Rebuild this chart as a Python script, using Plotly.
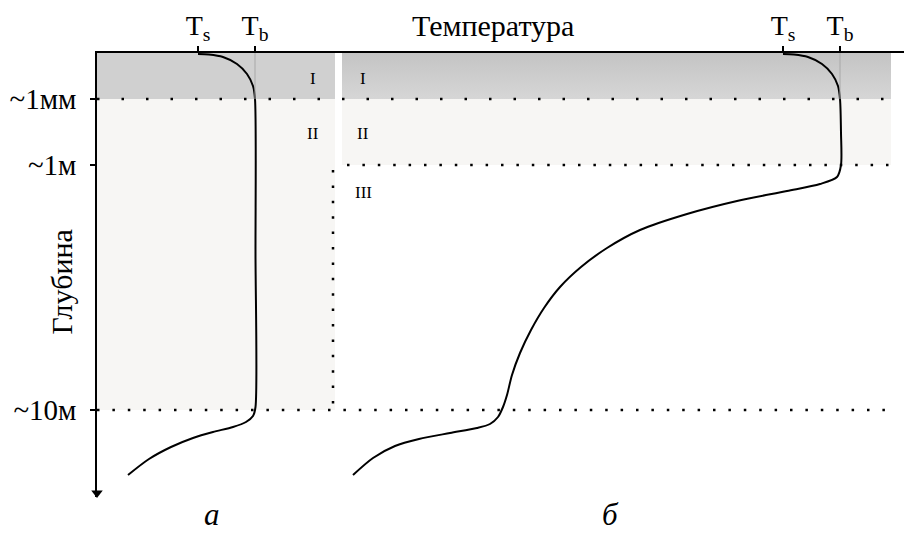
import plotly.graph_objects as go

# ---- schematic units: temperature (x) and depth (y, downward) ----
DEPTH_SURFACE = 0
DEPTH_1MM = 46
DEPTH_1M = 112
DEPTH_10M = 357
DEPTH_END = 444
X_END = 807

depth_ticks = [DEPTH_1MM, DEPTH_1M, DEPTH_10M]
depth_labels = ["~1мм", "~1м", "~10м"]

temp_ticks = [101, 158, 686, 743]
temp_labels = ["T<sub>s</sub>", "T<sub>b</sub>", "T<sub>s</sub>", "T<sub>b</sub>"]

panel_a_x = [0, 238]
panel_b_x = [245, 794]
divider_x = 236

# profile (а)
curve_a_T = [101, 112, 126, 140, 150, 156, 158, 158.5, 158.5, 156, 149, 136, 116, 96, 74, 52, 31]
curve_a_D = [1, 1.5, 4, 11, 21, 33, 46, 200, 354, 363, 369, 374, 379, 385, 394, 406, 422]

# profile (б)
curve_b_T = [686, 697, 711, 725, 735, 741, 743, 744, 744, 740, 723, 690, 640, 590, 543, 510,
             484, 463, 447, 434, 423, 415, 410, 406, 401, 393, 380, 353, 322, 298, 276, 256]
curve_b_D = [1, 1.5, 4, 11, 21, 33, 46, 80, 112, 124, 131, 138, 148, 161, 177, 195,
             214, 234, 255, 277, 300, 322, 342, 354, 364, 371, 375, 380, 386, 393, 405, 422]

roman = [("I", 216, 25), ("II", 216, 80), ("I", 266, 25), ("II", 266, 80), ("III", 266, 139)]

SERIF = "Liberation Serif"
GRAY = "#d0d0d0"
LIGHT = "#f7f6f4"

fig = go.Figure()

# gradient band I for panel б
fig.add_trace(go.Scatter(
    x=[panel_b_x[0], panel_b_x[1], panel_b_x[1], panel_b_x[0], panel_b_x[0]],
    y=[DEPTH_SURFACE, DEPTH_SURFACE, DEPTH_1MM, DEPTH_1MM, DEPTH_SURFACE],
    mode="lines", line=dict(width=0), fill="toself",
    fillgradient=dict(type="vertical", colorscale=[[0, "#d6d6d6"], [1, "#c4c4c4"]]),
    hoverinfo="skip", showlegend=False))

shapes = []
# panel а bands
shapes.append(dict(type="rect", xref="x", yref="y", x0=panel_a_x[0], x1=panel_a_x[1],
                   y0=DEPTH_SURFACE, y1=DEPTH_1MM, fillcolor=GRAY, line=dict(width=0), layer="below"))
shapes.append(dict(type="rect", xref="x", yref="y", x0=panel_a_x[0], x1=panel_a_x[1],
                   y0=DEPTH_1MM, y1=DEPTH_10M, fillcolor=LIGHT, line=dict(width=0), layer="below"))
# panel б band II
shapes.append(dict(type="rect", xref="x", yref="y", x0=panel_b_x[0], x1=panel_b_x[1],
                   y0=DEPTH_1MM, y1=DEPTH_1M, fillcolor=LIGHT, line=dict(width=0), layer="below"))
# thin gray lines at Tb
for tv in (temp_ticks[1], temp_ticks[3]):
    shapes.append(dict(type="line", xref="x", yref="y", x0=tv, x1=tv, y0=DEPTH_SURFACE, y1=DEPTH_1MM,
                       line=dict(color="#a8a8a8", width=1)))
# dotted lines
shapes.append(dict(type="line", xref="x", yref="y", x0=0, x1=panel_b_x[1], y0=DEPTH_1MM, y1=DEPTH_1MM,
                   line=dict(color="black", width=2.5, dash="2.5px,22px")))
shapes.append(dict(type="line", xref="x", yref="y", x0=250, x1=panel_b_x[1], y0=DEPTH_1M, y1=DEPTH_1M,
                   line=dict(color="black", width=2.5, dash="2.5px,12.9px")))
shapes.append(dict(type="line", xref="x", yref="y", x0=0, x1=panel_b_x[1], y0=DEPTH_10M, y1=DEPTH_10M,
                   line=dict(color="black", width=2.5, dash="2.5px,12.9px")))
shapes.append(dict(type="line", xref="x", yref="y", x0=divider_x, x1=divider_x, y0=117, y1=DEPTH_10M,
                   line=dict(color="black", width=2.5, dash="2.5px,12.9px")))

for T, D in ((curve_a_T, curve_a_D), (curve_b_T, curve_b_D)):
    fig.add_trace(go.Scatter(x=T, y=D, mode="lines",
                             line=dict(color="black", width=2, shape="spline", smoothing=0.8),
                             hoverinfo="skip", showlegend=False))

# arrow head on depth axis
fig.add_trace(go.Scatter(x=[0], y=[DEPTH_END - 4], mode="markers",
                         marker=dict(symbol="triangle-down", size=10, color="black"),
                         cliponaxis=False, hoverinfo="skip", showlegend=False))

annotations = []
for txt, xv, yv in roman:
    annotations.append(dict(text=txt, x=xv, y=yv, xref="x", yref="y", showarrow=False,
                            font=dict(family=SERIF, size=17, color="black")))
annotations.append(dict(text="Температура", x=396, xref="x", y=1.063, yref="paper", showarrow=False,
                        yanchor="middle", font=dict(family=SERIF, size=30, color="black")))
annotations.append(dict(text="Глубина", x=-0.067, xref="paper", y=0.484, yref="paper", showarrow=False,
                        textangle=-90, font=dict(family=SERIF, size=30, color="black")))
annotations.append(dict(text="<i>а</i>", x=115, xref="x", y=-0.04, yref="paper", showarrow=False,
                        yanchor="middle", font=dict(family=SERIF, size=31, color="black")))
annotations.append(dict(text="<i>б</i>", x=513, xref="x", y=-0.04, yref="paper", showarrow=False,
                        yanchor="middle", font=dict(family=SERIF, size=31, color="black")))

fig.update_layout(
    width=904, height=535,
    margin=dict(l=97, r=0, t=53, b=38),
    paper_bgcolor="white", plot_bgcolor="white",
    shapes=shapes, annotations=annotations,
    xaxis=dict(range=[0, X_END], side="top", showgrid=False, zeroline=False,
               showline=True, linecolor="black", linewidth=1.5,
               tickmode="array", tickvals=temp_ticks, ticktext=temp_labels,
               ticks="outside", ticklen=5, tickwidth=1.5, tickcolor="black",
               tickfont=dict(family=SERIF, size=28, color="black")),
    yaxis=dict(range=[DEPTH_END, 0], showgrid=False, zeroline=False,
               showline=True, linecolor="black", linewidth=1.5,
               tickmode="array", tickvals=depth_ticks, ticktext=depth_labels,
               ticks="outside", ticklen=5, tickwidth=1.5, tickcolor="black",
               ticklabelstandoff=8,
               tickfont=dict(family=SERIF, size=29, color="black")),
)

fig.write_html("out.html")
